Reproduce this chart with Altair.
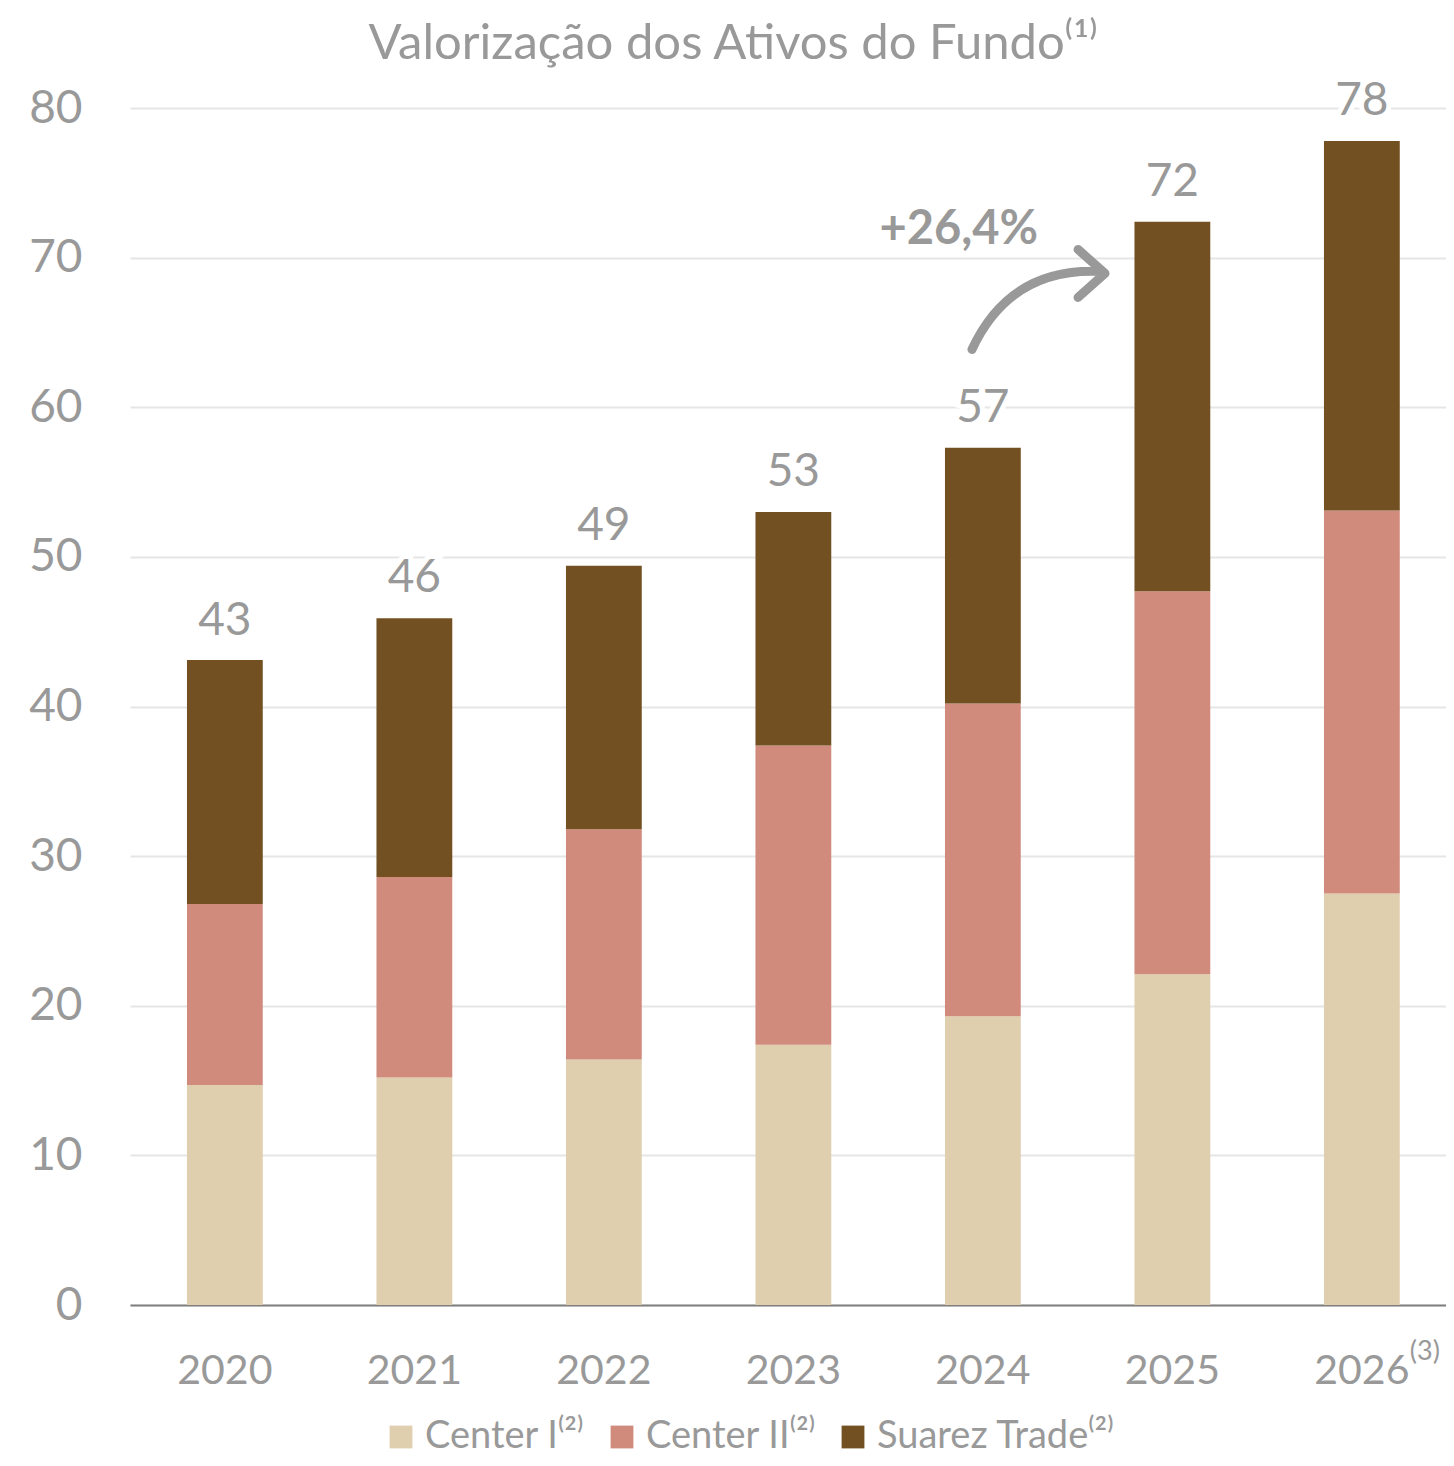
import altair as alt
import pandas as pd

years = ["2020", "2021", "2022", "2023", "2024", "2025", "2026"]
series = ["Center I", "Center II", "Suarez Trade"]
center_i = [14.7, 15.2, 16.4, 17.4, 19.3, 22.1, 27.5]
center_ii = [12.1, 13.4, 15.4, 20.0, 20.9, 25.6, 25.6]
suarez = [16.3, 17.3, 17.6, 15.6, 17.1, 24.7, 24.7]
totals = [43, 46, 49, 53, 57, 72, 78]
total_pos = [43.05, 45.9, 49.4, 53.0, 57.3, 72.4, 77.8]
colors = ["#E0CFAE", "#D08B7D", "#735022"]
growth_label = "+26,4%"

GRAY = "#999999"
FONT = "Lato"

rows = []
for i, y in enumerate(years):
    for k, (s, vals) in enumerate(zip(series, [center_i, center_ii, suarez])):
        rows.append({"year": y, "series": s, "value": vals[i], "order": k})
df = pd.DataFrame(rows)
tot_df = pd.DataFrame({"year": years, "total": totals, "pos": total_pos})

xscale = alt.Scale(paddingInner=0.6, paddingOuter=0.2723, align=0.552)
x = alt.X("year:N", title=None, sort=years, scale=xscale,
          axis=alt.Axis(labelAngle=0, labelFontSize=41, labelColor=GRAY, labelFont=FONT,
                        labelPadding=46, ticks=False, domainColor="#808080", domainWidth=2,
                        grid=False))
yscale = alt.Scale(domain=[0, 80])

bars = alt.Chart(df).mark_bar().encode(
    x=x,
    y=alt.Y("value:Q", stack="zero", scale=yscale, title=None,
            axis=alt.Axis(values=list(range(0, 81, 10)), labelFontSize=46, labelColor=GRAY,
                          labelFont=FONT, labelPadding=48, ticks=False, domain=False,
                          gridColor="#E6E6E6", gridWidth=2, minExtent=122, maxExtent=122)),
    color=alt.Color("series:N", scale=alt.Scale(domain=series, range=colors),
                    legend=alt.Legend(title=None, orient="none", direction="horizontal",
                                      legendX=252, legendY=1310,
                                      labelExpr="datum.label + '⁽²⁾'",
                                      labelFontSize=38, labelColor=GRAY, labelFont=FONT,
                                      labelLimit=600,
                                      symbolType="square", symbolSize=520, symbolStrokeWidth=0,
                                      columnPadding=18, labelOffset=5)),
    order=alt.Order("order:Q", sort="ascending"),
)

halo = alt.Chart(tot_df).mark_text(fontSize=46, font=FONT, color="white", stroke="white",
                                   strokeWidth=10, baseline="alphabetic", dy=-26).encode(
    x=alt.X("year:N", sort=years, scale=xscale), y=alt.Y("pos:Q", scale=yscale), text="total:Q")
labels = alt.Chart(tot_df).mark_text(fontSize=46, font=FONT, color=GRAY,
                                     baseline="alphabetic", dy=-26).encode(
    x=alt.X("year:N", sort=years, scale=xscale), y=alt.Y("pos:Q", scale=yscale), text="total:Q")

sup = alt.Chart(pd.DataFrame({"year": ["2026"], "t": ["(3)"]})).mark_text(
    fontSize=27, font=FONT, color=GRAY, align="left", baseline="middle", dx=48).encode(
    x=alt.X("year:N", sort=years, scale=xscale), y=alt.value(1244), text="t:N")

growth = alt.Chart(pd.DataFrame({"year": ["2024"], "t": [growth_label], "v": [71.85]})).mark_text(
    fontSize=47, font=FONT, fontWeight="bold", color=GRAY, baseline="middle", dx=-24).encode(
    x=alt.X("year:N", sort=years, scale=xscale), y=alt.Y("v:Q", scale=yscale), text="t:N")

arrow_path = ("M -0.867 0.507 Q -0.36 -0.587 0.84 -0.533 "
              "M 0.547 -0.827 L 0.907 -0.507 L 0.547 -0.187")
arrow = alt.Chart(pd.DataFrame({"v": [66.4]})).mark_point(
    shape=arrow_path, size=22500, filled=False, stroke=GRAY, strokeWidth=9,
    strokeCap="round", strokeJoin="round", opacity=1).encode(
    x=alt.value(907), y=alt.Y("v:Q", scale=yscale))

chart = alt.layer(bars, halo, labels, sup, growth, arrow).properties(
    width=1316, height=1197,
    autosize=alt.AutoSizeParams(type="none"),
    padding={"left": 122, "top": 100, "right": 0, "bottom": 153},
    title=alt.Title("Valorização dos Ativos do Fundo⁽¹⁾", fontSize=49, font=FONT,
                    fontWeight="normal", color=GRAY, anchor="middle", dx=-55, offset=9),
).configure_view(stroke=None)

chart.save("out.html", embed_options={"renderer": "svg", "actions": False})
